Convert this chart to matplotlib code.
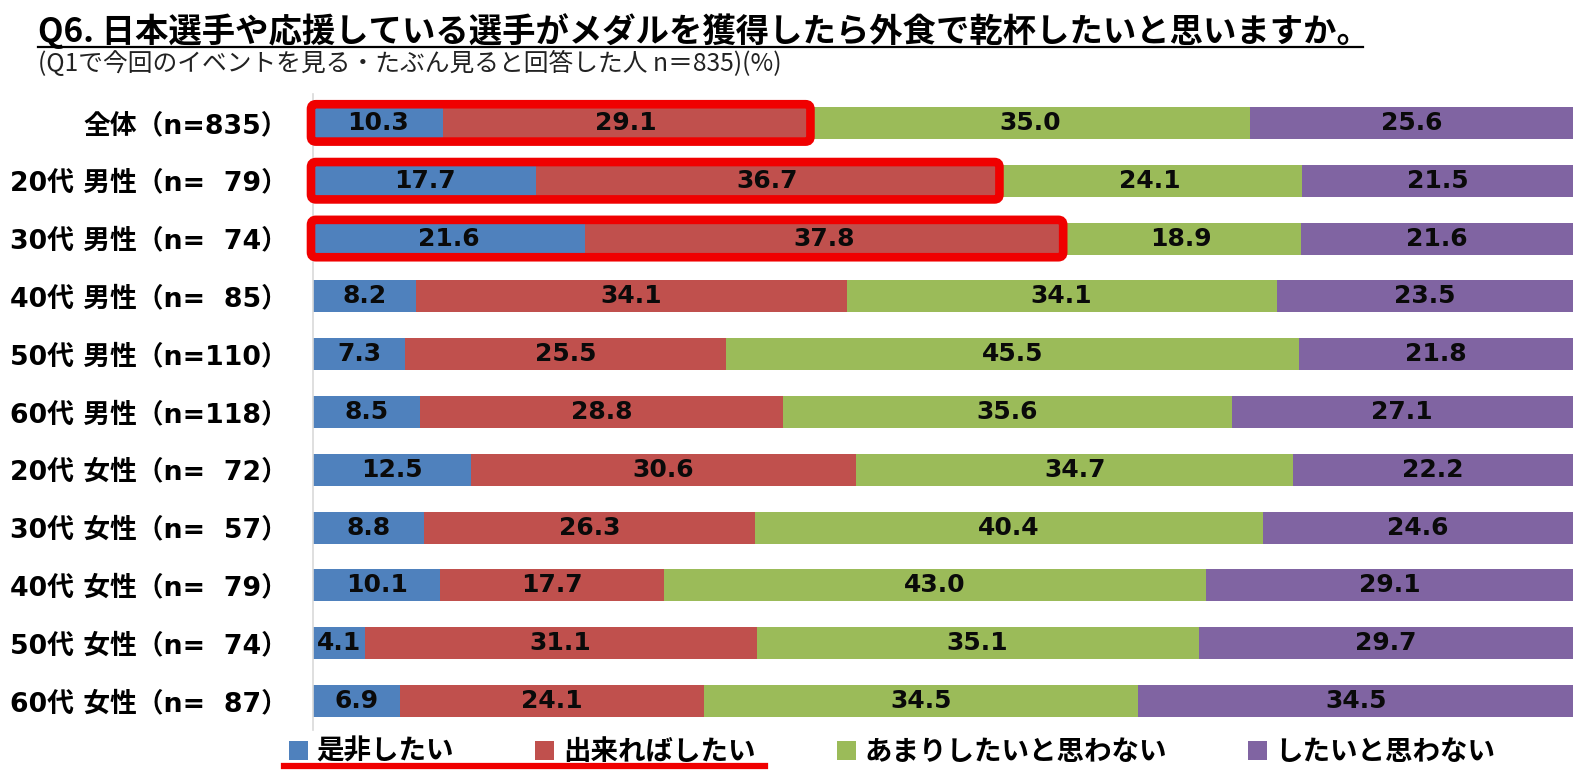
import numpy as np
import matplotlib as mpl
mpl.use('Agg')
from matplotlib import pyplot as plt
from matplotlib.patches import FancyBboxPatch
from matplotlib.lines import Line2D

plt.rcParams['font.family'] = ['Noto Sans CJK JP', 'DejaVu Sans']

# データ
categories = ['全体（n=835）', '20代 男性（n=  79）', '30代 男性（n=  74）', '40代 男性（n=  85）',
              '50代 男性（n=110）', '60代 男性（n=118）', '20代 女性（n=  72）', '30代 女性（n=  57）',
              '40代 女性（n=  79）', '50代 女性（n=  74）', '60代 女性（n=  87）']
series_names = ['是非したい', '出来ればしたい', 'あまりしたいと思わない', 'したいと思わない']
zehi = [10.3, 17.7, 21.6, 8.2, 7.3, 8.5, 12.5, 8.8, 10.1, 4.1, 6.9]
dekireba = [29.1, 36.7, 37.8, 34.1, 25.5, 28.8, 30.6, 26.3, 17.7, 31.1, 24.1]
amari = [35.0, 24.1, 18.9, 34.1, 45.5, 35.6, 34.7, 40.4, 43.0, 35.1, 34.5]
omowanai = [25.6, 21.5, 21.6, 23.5, 21.8, 27.1, 22.2, 24.6, 29.1, 29.7, 34.5]
highlight_rows = [0, 1, 2]

colors = ['#4F81BD', '#C0504D', '#9BBB59', '#8064A2']

W, H = 1588, 781
fig = plt.figure(figsize=(W / 100, H / 100), dpi=100)
ax = fig.add_axes([313 / W, 1 - 730 / H, 1260 / W, 636 / H])

values = np.array([zehi, dekireba, amari, omowanai])
totals = values.sum(axis=0)
shares = values / totals * 100  # 100%積み上げ
y = np.arange(len(categories))
bar_h = 0.553

left = np.zeros(len(categories))
for i in range(4):
    ax.barh(y, shares[i], left=left, height=bar_h, color=colors[i], label=series_names[i])
    for j in range(len(categories)):
        ax.text(left[j] + shares[i][j] / 2, y[j], '%.1f' % values[i][j], ha='center', va='center',
                fontsize=18, fontweight='bold', family='DejaVu Sans', color='#0a0a0a')
    left += shares[i]

ax.set_xlim(0, 100)
ax.set_ylim(len(categories) - 0.5, -0.5)
ax.set_yticks(y)
ax.set_yticklabels(categories, fontsize=19.3, fontweight='bold',
                   family=['DejaVu Sans', 'Noto Sans CJK JP'])
ax.tick_params(axis='y', length=0, pad=18)
ax.set_xticks([])
for s in ['top', 'right', 'bottom']:
    ax.spines[s].set_visible(False)
ax.spines['left'].set_color('#D9D9D9')
ax.spines['left'].set_linewidth(1.2)

# 赤枠
fig.canvas.draw()
px_x = ax.transData.transform((1, 0))[0] - ax.transData.transform((0, 0))[0]
px_y = abs(ax.transData.transform((0, 1))[1] - ax.transData.transform((0, 0))[1])
aspect = px_x / px_y
for r in highlight_rows:
    x0 = -2 / px_x
    x1 = shares[0][r] + shares[1][r] + 1 / px_x
    hh = bar_h / 2 + 2.7 / px_y
    box = FancyBboxPatch((x0, r - hh), x1 - x0, 2 * hh,
                         boxstyle='round,pad=0,rounding_size=%f' % (5 / px_x),
                         mutation_aspect=aspect, fill=False, edgecolor='#F00000',
                         linewidth=6.2, clip_on=False, zorder=5)
    ax.add_patch(box)

# タイトル
fig.text(38 / W, 1 - 31 / H, 'Q6. 日本選手や応援している選手がメダルを獲得したら外食で乾杯したいと思いますか。',
         fontsize=24, fontweight='bold', va='center', ha='left')
fig.add_artist(Line2D([38 / W, 1363 / W], [1 - 47 / H, 1 - 47 / H], color='black', lw=1.6))
fig.text(38 / W, 1 - 64 / H, '(Q1で今回のイベントを見る・たぶん見ると回答した人 n＝835)(%)',
         fontsize=17.8, va='center', ha='left', color='#222222')

# 凡例
leg = fig.legend(loc='upper left', bbox_to_anchor=(289 / W, 1 - 738 / H), ncol=4, frameon=False,
                 prop={'size': 19.8, 'weight': 'bold'}, handlelength=0.68, handleheight=0.68,
                 handletextpad=0.32, columnspacing=2.96, borderpad=0, borderaxespad=0)
fig.add_artist(Line2D([284 / W, 765 / W], [1 - 766 / H, 1 - 766 / H], color='#F00000', lw=4.5))

fig.savefig('out.png', dpi=100)
